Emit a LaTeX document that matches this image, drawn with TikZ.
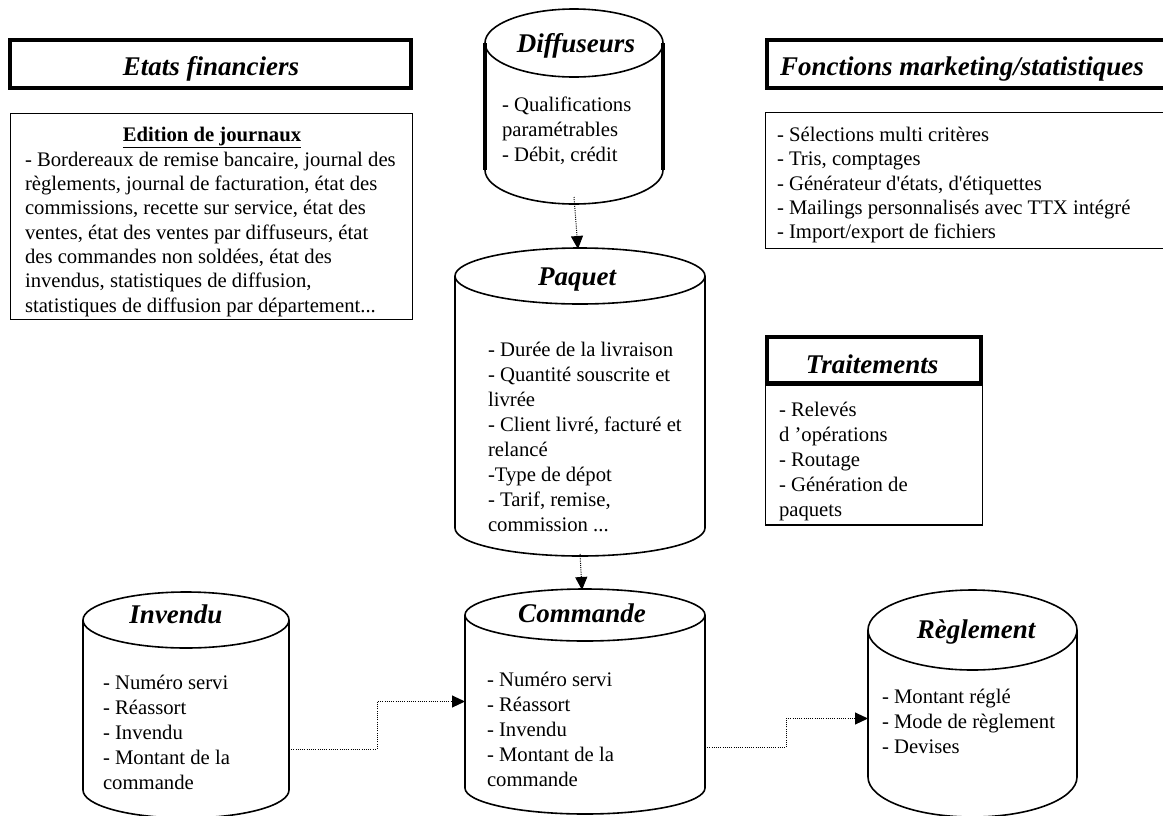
\documentclass[tikz,border=0pt]{standalone}
\usepackage{fontspec}
\setmainfont{Liberation Serif}
\usetikzlibrary{arrows.meta,calc}
\tikzset{
  every node/.style={inner sep=0pt, outer sep=0pt},
  titlebox/.style={draw, line width=4pt},
  plainbox/.style={draw, line width=1.3pt},
  cylline/.style={line width=1.6pt},
  body/.style={anchor=north west, align=left, font=\fontsize{20.7}{25}\selectfont},
  boxbody/.style={anchor=north west, align=left, font=\fontsize{20.7}{24.3}\selectfont},
  ttl/.style={font=\fontsize{27}{30}\selectfont\bfseries\itshape},
  link/.style={line width=1pt, dash pattern=on 1pt off 1.2pt, -{Triangle[length=13pt,width=12pt]}},
}
% name, x left, x right, y of top ellipse centre, y where the sides end, y radius
\newcommand\dbcyl[6]{%
  \node[minimum width={#3-#2}, minimum height={#5-#4+2*#6}, anchor=north west] (#1) at (#2,{#4-#6}) {};
  \draw[cylline] ({(#2+#3)/2},#4) ellipse [x radius={(#3-#2)/2}, y radius=#6];
  \draw[cylline] (#2,#4) -- (#2,#5)
     .. controls (#2,{#5+0.5523*#6}) and ({(#2+#3)/2-0.5523*(#3-#2)/2},{#5+#6}) .. ({(#2+#3)/2},{#5+#6})
     .. controls ({(#2+#3)/2+0.5523*(#3-#2)/2},{#5+#6}) and (#3,{#5+0.5523*#6}) .. (#3,#5) -- (#3,#4);
}
\begin{document}
\begin{tikzpicture}[x=1pt,y=-1pt]
\useasboundingbox (0,0) rectangle (1163,815);
\clip (0,0) rectangle (1163,815);

% ---------- Etats financiers ----------
\node[titlebox, minimum width=401, minimum height=48] (etats) at (210.5,64) {};
\node[ttl, anchor=base] (etatst) at (211,75) {Etats financiers};
\node[plainbox, minimum width=402, minimum height=206, anchor=north west] (edbox) at (10.6,113.6) {};
\node[font=\fontsize{20.7}{25}\selectfont\bfseries, anchor=north] (edhead) at (212,127) {\underline{Edition de journaux}};
\node[boxbody] (edtxt) at (25,152) {- Bordereaux de remise bancaire, journal des\\
règlements, journal de facturation, état des\\
commissions, recette sur service, état des\\
ventes, état des ventes par diffuseurs, état\\
des commandes non soldées, état des\\
invendus, statistiques de diffusion,\\
statistiques de diffusion par département...};

% ---------- Fonctions marketing ----------
\node[titlebox, minimum width=420, minimum height=48, anchor=north west] (fonct) at (767,40) {};
\node[ttl, anchor=base west] (fonctt) at (780,75) {Fonctions marketing/statistiques};
\node[plainbox, minimum width=430, minimum height=136, anchor=north west] (fbox) at (765.6,112.6) {};
\node[boxbody] (ftxt) at (777,127) {- Sélections multi critères\\
- Tris, comptages\\
- Générateur d\textquotesingle états, d\textquotesingle étiquettes\\
- Mailings personnalisés avec TTX intégré\\
- Import/export de fichiers};

% ---------- Traitements ----------
\node[plainbox, minimum width=217, minimum height=140, anchor=north west] (tbox) at (765.6,385) {};
\node[titlebox, minimum width=214, minimum height=46, anchor=north west] (trait) at (767,337) {};
\node[ttl, anchor=base] (traitt) at (872,373) {Traitements};
\node[body] (ttxt) at (779,402) {- Relevés\\
d ’opérations\\
- Routage\\
- Génération de\\
paquets};

% ---------- Cylinders ----------
\dbcyl{dif}{485}{663}{43}{170}{34}
\draw[line width=3.5pt] (dif.north west |- 0,43) -- (dif.west |- 0,170);
\draw[line width=3.5pt] (dif.north east |- 0,43) -- (dif.east |- 0,170);
\node[ttl, anchor=base] (dift) at (576,52) {Diffuseurs};
\node[body] (diftxt) at (502,97) {- Qualifications\\
paramétrables\\
- Débit, crédit};

\dbcyl{paq}{455}{705}{276}{528}{28}
\node[ttl, anchor=base] (paqt) at (577,285) {Paquet};
\node[body] (paqtxt) at (488,342) {- Durée de la livraison\\
- Quantité souscrite et\\
livrée\\
- Client livré, facturé et\\
relancé\\
-Type de dépot\\
- Tarif, remise,\\
commission ...};

\dbcyl{inv}{83}{289}{620}{790}{28}
\node[ttl, anchor=base] (invt) at (176,623) {Invendu};
\node[body] (invtxt) at (103,675) {- Numéro servi\\
- Réassort\\
- Invendu\\
- Montant de la\\
commande};

\dbcyl{com}{465}{705}{615}{788}{26}
\node[ttl, anchor=base] (comt) at (582,622) {Commande};
\node[body] (comtxt) at (487,672) {- Numéro servi\\
- Réassort\\
- Invendu\\
- Montant de la\\
commande};

\dbcyl{reg}{868}{1077}{630}{777}{40}
\node[ttl, anchor=base] (regt) at (976,638) {Règlement};
\node[body] (regtxt) at (882,689) {- Montant réglé\\
- Mode de règlement\\
- Devises};

% ---------- Connectors ----------
\draw[link] ($(dif.south)+(0,-7)$) -- ($(paq.north)+(-2,1)$);
\draw[link] ($(paq.south)+(0,-2)$) -- ($(com.north)+(-3,1)$);
\draw[link] ($(inv.east)+(0,44)$) -- ++(88,0) |- (com.west);
\draw[link] ($(com.east)+(0,46)$) -- ++(81,0) |- ($(reg.west)+(0,15)$);
\end{tikzpicture}
\end{document}
